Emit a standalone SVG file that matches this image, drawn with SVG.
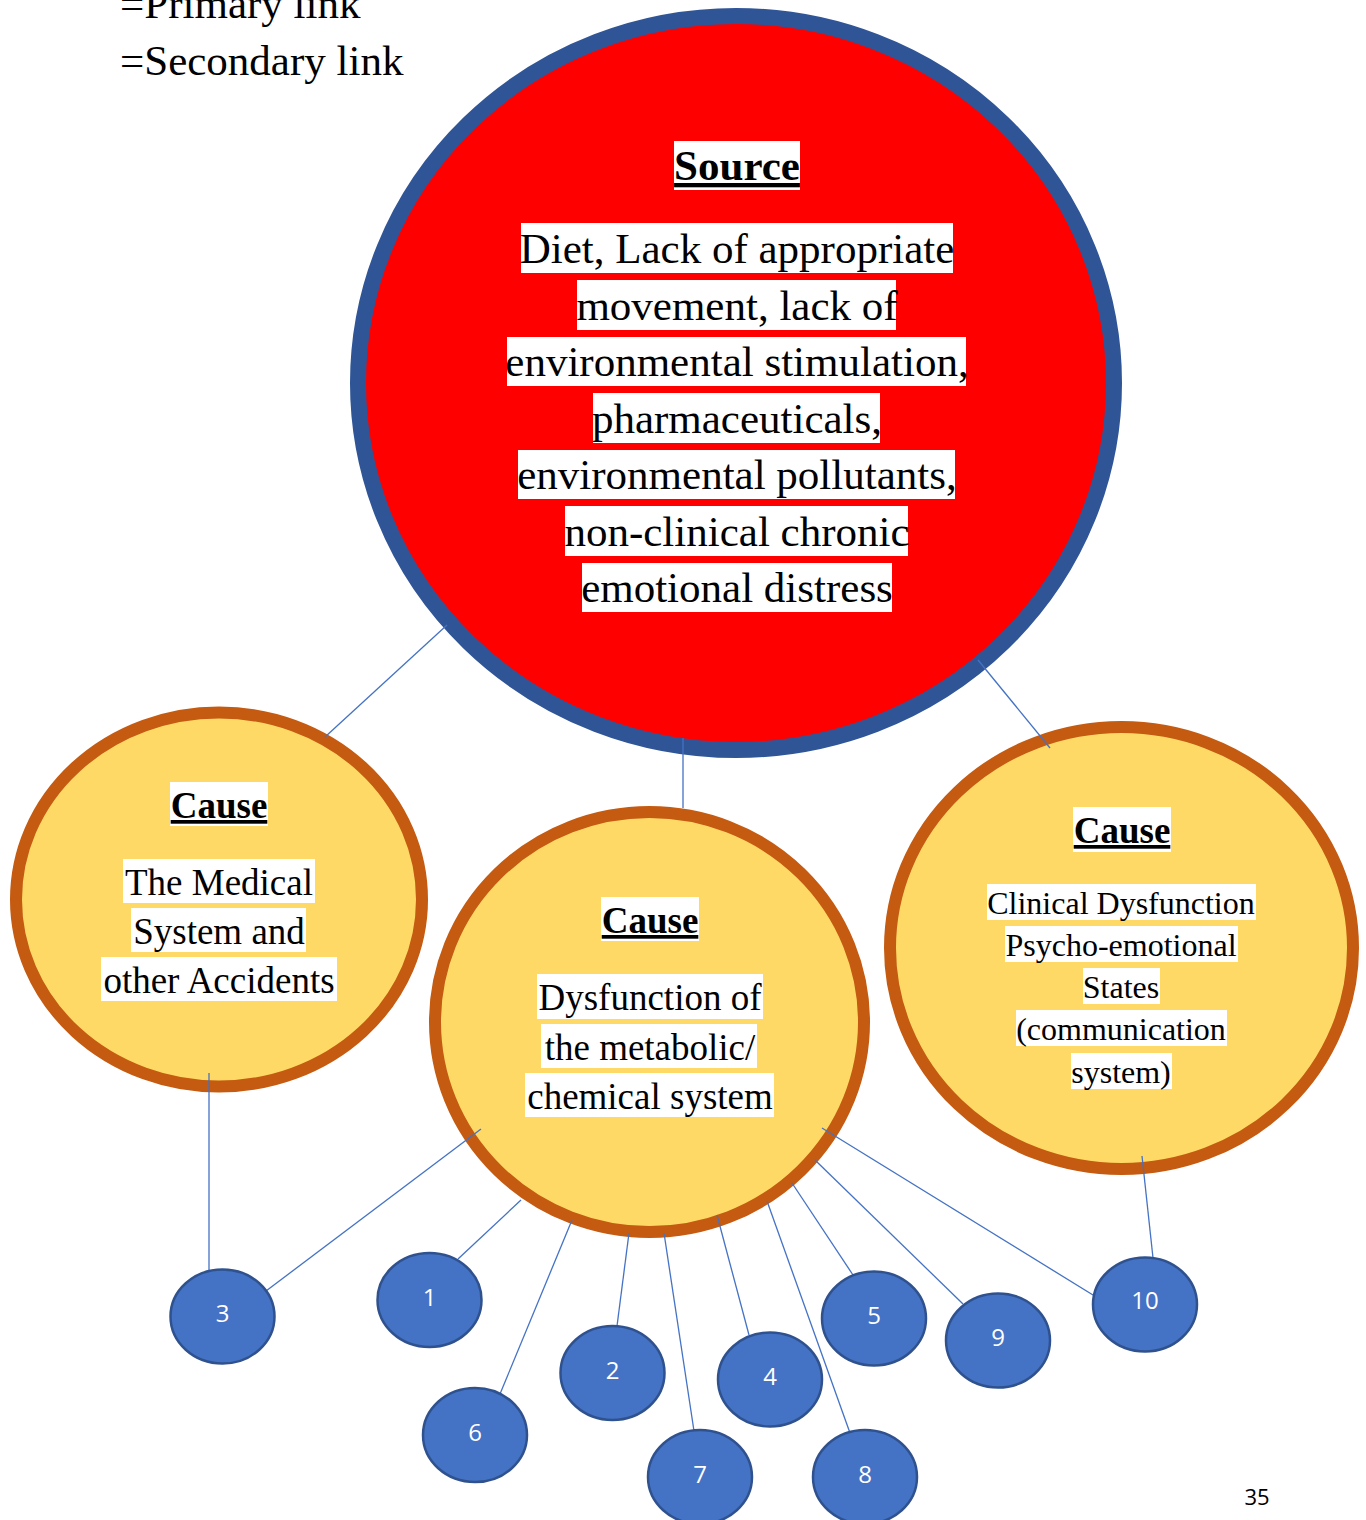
<svg xmlns="http://www.w3.org/2000/svg" width="1366" height="1520" viewBox="0 0 1366 1520">
  <style>
    .serif { font-family: "Liberation Serif", "Times New Roman", serif; fill: #000; text-anchor: middle; }
    .hdr { font-weight: bold; text-decoration: underline; }
    .hl { fill: #fff; }
    .cause { fill: #FFD966; stroke: #C55A11; stroke-width: 12; }
    .leaf ellipse { fill: #4472C4; stroke: #2F528F; stroke-width: 2.5; }
    .leaf text { font-family: "Open Sans", "Liberation Sans", sans-serif; font-size: 24px; fill: #fff; text-anchor: middle; }
    .link line { stroke: #4472C4; stroke-width: 1.3; }
  </style>

  <rect width="1366" height="1520" fill="#fff"/>

  <!-- legend -->
  <g id="legend" font-family="Liberation Serif, Times New Roman, serif" font-size="43">
    <text x="120" y="18">=Primary link</text>
    <text x="120" y="75">=Secondary link</text>
  </g>

  <!-- source -->
  <g id="source">
    <ellipse cx="736" cy="383" rx="378" ry="367" fill="#FF0000" stroke="#2F5597" stroke-width="16"/>
    <rect class="hl" x="674" y="141" width="126" height="49"/>
    <rect class="hl" x="521" y="223" width="432" height="50"/>
    <rect class="hl" x="577" y="280" width="319" height="50"/>
    <rect class="hl" x="507" y="337" width="459" height="49"/>
    <rect class="hl" x="593" y="393" width="287" height="50"/>
    <rect class="hl" x="518" y="450" width="437" height="49"/>
    <rect class="hl" x="565" y="506" width="343" height="50"/>
    <rect class="hl" x="582" y="563" width="310" height="49"/>
    <g class="serif" font-size="43">
      <text class="hdr" x="737" y="180">Source</text>
      <text x="737" y="263">Diet, Lack of appropriate</text>
      <text x="737" y="320">movement, lack of</text>
      <text x="737" y="376">environmental stimulation,</text>
      <text x="737" y="433">pharmaceuticals,</text>
      <text x="737" y="489">environmental pollutants,</text>
      <text x="737" y="546">non-clinical chronic</text>
      <text x="737" y="602">emotional distress</text>
    </g>
  </g>

  <!-- cause: medical system -->
  <g id="cause-medical">
    <ellipse class="cause" cx="219" cy="899.5" rx="203" ry="187"/>
    <rect class="hl" x="170" y="782" width="98" height="44"/>
    <rect class="hl" x="123" y="859" width="192" height="44"/>
    <rect class="hl" x="131" y="908" width="175" height="44"/>
    <rect class="hl" x="101" y="957" width="236" height="44"/>
    <g class="serif" font-size="37">
      <text class="hdr" x="219" y="818">Cause</text>
      <text x="219" y="895">The Medical</text>
      <text x="219" y="944">System and</text>
      <text x="219" y="993">other Accidents</text>
    </g>
  </g>

  <!-- cause: metabolic -->
  <g id="cause-metabolic">
    <ellipse class="cause" cx="649.5" cy="1022" rx="214.5" ry="210"/>
    <rect class="hl" x="601" y="897" width="98" height="44"/>
    <rect class="hl" x="537" y="974" width="226" height="45"/>
    <rect class="hl" x="541" y="1024" width="216" height="44"/>
    <rect class="hl" x="525" y="1073" width="249" height="44"/>
    <g class="serif" font-size="37">
      <text class="hdr" x="650" y="933">Cause</text>
      <text x="650" y="1010">Dysfunction of</text>
      <text x="650" y="1060">the metabolic/</text>
      <text x="650" y="1109">chemical system</text>
    </g>
  </g>

  <!-- cause: clinical dysfunction -->
  <g id="cause-clinical">
    <ellipse class="cause" cx="1121.5" cy="948" rx="231.5" ry="221"/>
    <rect class="hl" x="1073" y="807" width="98" height="45"/>
    <rect class="hl" x="987" y="884" width="269" height="36"/>
    <rect class="hl" x="1005" y="926" width="233" height="36"/>
    <rect class="hl" x="1083" y="968" width="77" height="36"/>
    <rect class="hl" x="1016" y="1010" width="211" height="36"/>
    <rect class="hl" x="1071" y="1053" width="101" height="36"/>
    <g class="serif">
      <text class="hdr" x="1122" y="843" font-size="37">Cause</text>
      <g font-size="32">
        <text x="1121" y="914">Clinical Dysfunction</text>
        <text x="1121" y="956">Psycho-emotional</text>
        <text x="1121" y="998">States</text>
        <text x="1121" y="1040">(communication</text>
        <text x="1121" y="1083">system)</text>
      </g>
    </g>
  </g>

  <!-- connectors -->
  <g id="connectors" class="link">
    <line x1="447" y1="625" x2="325" y2="737"/>
    <line x1="683" y1="738" x2="683" y2="808"/>
    <line x1="978" y1="660" x2="1050" y2="748"/>
    <line x1="209" y1="1073" x2="209" y2="1270"/>
    <line x1="481" y1="1129" x2="266" y2="1291"/>
    <line x1="521" y1="1200" x2="458" y2="1259"/>
    <line x1="572" y1="1220" x2="500" y2="1394"/>
    <line x1="629" y1="1233" x2="617" y2="1326"/>
    <line x1="664" y1="1233" x2="694" y2="1431"/>
    <line x1="717" y1="1215" x2="749" y2="1335"/>
    <line x1="767" y1="1201" x2="850" y2="1433"/>
    <line x1="792" y1="1183" x2="853" y2="1275"/>
    <line x1="815" y1="1160" x2="963" y2="1304"/>
    <line x1="822" y1="1128" x2="1093" y2="1295"/>
    <line x1="1142" y1="1156" x2="1153" y2="1258"/>
  </g>

  <!-- numbered nodes -->
  <g id="n1" class="leaf"><ellipse cx="429.5" cy="1300" rx="52" ry="47"/><text x="429.5" y="1306">1</text></g>
  <g id="n2" class="leaf"><ellipse cx="612.5" cy="1373" rx="52" ry="47"/><text x="612.5" y="1379">2</text></g>
  <g id="n3" class="leaf"><ellipse cx="222.5" cy="1316.5" rx="52" ry="47"/><text x="222.5" y="1322">3</text></g>
  <g id="n4" class="leaf"><ellipse cx="770" cy="1379.5" rx="52" ry="47"/><text x="770" y="1385">4</text></g>
  <g id="n5" class="leaf"><ellipse cx="874" cy="1318.5" rx="52" ry="47"/><text x="874" y="1324">5</text></g>
  <g id="n6" class="leaf"><ellipse cx="475" cy="1435" rx="52" ry="47"/><text x="475" y="1441">6</text></g>
  <g id="n7" class="leaf"><ellipse cx="700" cy="1477" rx="52" ry="47"/><text x="700" y="1483">7</text></g>
  <g id="n8" class="leaf"><ellipse cx="865" cy="1477" rx="52" ry="47"/><text x="865" y="1483">8</text></g>
  <g id="n9" class="leaf"><ellipse cx="998" cy="1340.5" rx="52" ry="47"/><text x="998" y="1346">9</text></g>
  <g id="n10" class="leaf"><ellipse cx="1145" cy="1304.5" rx="52" ry="47"/><text x="1145" y="1309">10</text></g>

  <!-- page number -->
  <text x="1257" y="1505" font-family="Open Sans, Liberation Sans, sans-serif" font-size="22" text-anchor="middle" fill="#000">35</text>
</svg>
